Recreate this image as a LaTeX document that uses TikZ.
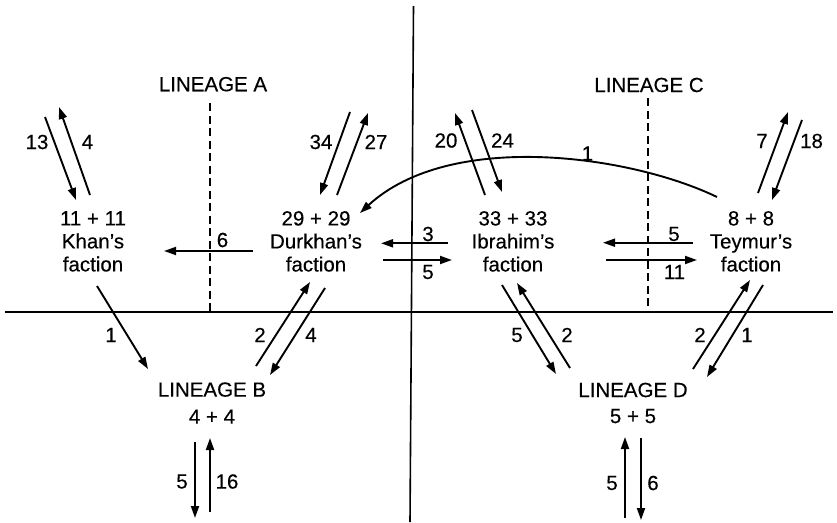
\documentclass[tikz,border=0pt]{standalone}
\usepackage{fontspec}
\setmainfont[FakeBold=0.35]{Liberation Sans}
\usetikzlibrary{arrows.meta,calc}

\begin{document}
\begin{tikzpicture}[
  x=1pt,y=-1pt,
  font=\fontsize{20.5}{23}\selectfont,
  fac/.style={align=center,inner sep=0pt},
  num/.style={inner sep=0pt},
  flow/.style={->,line width=1.9pt},
  axis/.style={line width=1.6pt},
  divide/.style={line width=1.7pt,dash pattern=on 8pt off 4.5pt},
  >={Triangle[length=12pt,width=8pt]}
]
\useasboundingbox (0,0) rectangle (837,522);

\draw[axis] (5,311.7) -- (833,311.7);
\draw[axis] (413.5,6) -- (410,522);
\draw[divide] (210,103) -- (210,311);
\draw[divide] (648,98) -- (648,311);

\node[fac] (linA) at (213,84.2) {LINEAGE A};
\node[fac] (linC) at (649,85) {LINEAGE C};
\node[fac] (khan) at (93,241.4) {11 + 11\\Khan’s\\faction};
\node[fac] (durk) at (316,241.4) {29 + 29\\Durkhan’s\\faction};
\node[fac] (ibra) at (513,241.4) {33 + 33\\Ibrahim’s\\faction};
\node[fac] (teym) at (751,241.4) {8 + 8\\Teymur’s\\faction};
\node[fac] (linB) at (212,403) {LINEAGE B\\[4pt]4 + 4};
\node[fac] (linD) at (633,403) {LINEAGE D\\[3pt]5 + 5};

\draw[flow] ($(khan)+(-48,-124.4)$) -- ($(khan)+(-17,-41.4)$);
\draw[flow] ($(khan)+(-3,-46.4)$) -- ($(khan)+(-34,-134.4)$);
\draw[flow] ($(durk)+(34,-129.4)$) -- ($(durk)+(4,-46.4)$);
\draw[flow] ($(durk)+(21,-46.4)$) -- ($(durk)+(52,-128.4)$);
\draw[flow] ($(ibra)+(-28,-46.4)$) -- ($(ibra)+(-58,-128.4)$);
\draw[flow] ($(ibra)+(-41,-131.4)$) -- ($(ibra)+(-11,-49.4)$);
\draw[flow] ($(teym)+(7,-48.4)$) -- ($(teym)+(37,-129.4)$);
\draw[flow] ($(teym)+(51,-121.4)$) -- ($(teym)+(21,-41.4)$);

\draw[flow] ($(teym)+(-34,-44.4)$) .. controls (630,155) and (450,130) .. ($(durk)+(44,-28.4)$);

\draw[flow] ($(durk)+(-63,9.6)$) -- ($(khan)+(71,9.6)$);
\draw[flow] ($(ibra)+(-65,1.9)$) -- ($(durk)+(65,1.9)$);
\draw[flow] ($(durk)+(67,18.6)$) -- ($(ibra)+(-61,18.6)$);
\draw[flow] ($(teym)+(-58,1.3)$) -- ($(ibra)+(90,1.3)$);
\draw[flow] ($(ibra)+(93,18.6)$) -- ($(teym)+(-54,18.6)$);

\draw[flow] ($(khan)+(4,44.6)$) -- ($(linB)+(-64,-34)$);
\draw[flow] ($(linB)+(44,-37)$) -- ($(durk)+(-6,40.6)$);
\draw[flow] ($(durk)+(9,46.6)$) -- ($(linB)+(58,-28)$);
\draw[flow] ($(ibra)+(-11,43.6)$) -- ($(linD)+(-77,-29)$);
\draw[flow] ($(linD)+(-63,-35)$) -- ($(ibra)+(4,41.6)$);
\draw[flow] ($(linD)+(60,-34)$) -- ($(teym)+(-1,38.6)$);
\draw[flow] ($(teym)+(12,43.6)$) -- ($(linD)+(74,-26)$);

\draw[flow] ($(linB)+(-17,39)$) -- ($(linB)+(-17,115)$);
\draw[flow] ($(linB)+(-2,109)$) -- ($(linB)+(-2,35)$);
\draw[flow] ($(linD)+(-8,115)$) -- ($(linD)+(-8,34)$);
\draw[flow] ($(linD)+(8,35)$) -- ($(linD)+(8,117)$);

\node[num] (kIn) at (37,142) {13};
\node[num] (kOut) at (87.5,142) {4};
\node[num] (dIn) at (321,142) {34};
\node[num] (dOut) at (376,142) {27};
\node[num] (iOut) at (446,140.5) {20};
\node[num] (iIn) at (502.5,140.5) {24};
\node[num] (tOut) at (762,141) {7};
\node[num] (tIn) at (811.5,141) {18};
\node[num] (tdArc) at (587.5,153.5) {1};
\node[num] (dk) at (222.5,240) {6};
\node[num] (id) at (428,234) {3};
\node[num] (di) at (428,272) {5};
\node[num] (ti) at (674,234) {5};
\node[num] (it) at (674.5,272) {11};
\node[num] (kb) at (111,335) {1};
\node[num] (bd) at (260,335) {2};
\node[num] (db) at (311,335) {4};
\node[num] (iD) at (517,335) {5};
\node[num] (Di) at (567,335) {2};
\node[num] (Dt) at (700,335) {2};
\node[num] (tD) at (747,335) {1};
\node[num] (bOut) at (182,481.5) {5};
\node[num] (bIn) at (227,481.5) {16};
\node[num] (DIn) at (612,483) {5};
\node[num] (DOut) at (653,483) {6};
\end{tikzpicture}
\end{document}
